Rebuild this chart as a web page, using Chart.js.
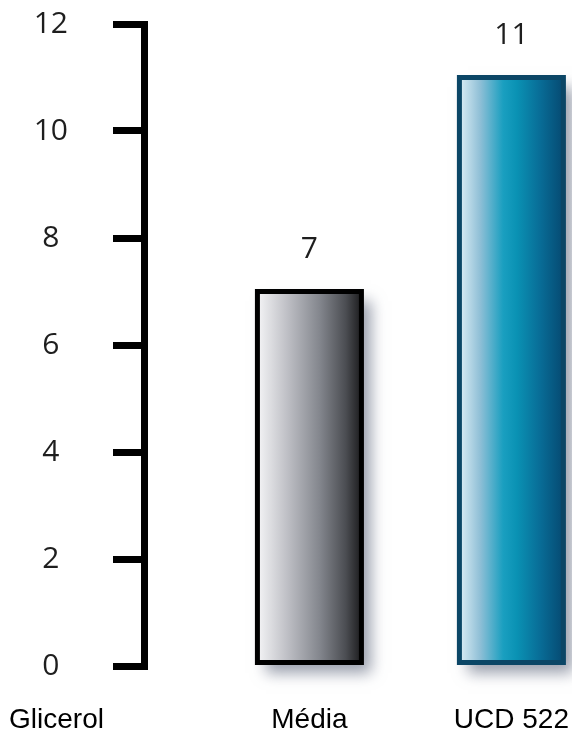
<!DOCTYPE html>
<html>
<head>
<meta charset="utf-8">
<script src="https://cdn.jsdelivr.net/npm/chart.js@4.4.1/dist/chart.umd.min.js"></script>
<style>
  html, body { margin: 0; padding: 0; background: #ffffff; }
  #wrap { width: 572px; height: 731px; position: relative; }
</style>
</head>
<body>
<div id="wrap"><canvas id="chart"></canvas></div>
<script>
// ---- data ----
const categories = ['Média', 'UCD 522'];
const values = [7, 11];
const yTickValues = [0, 2, 4, 6, 8, 10, 12];
const axisCaption = 'Glicerol';

// ---- styles ----
const fillStops = [
  [[0, '#f4f4f6'], [0.3, '#bcbdc3'], [0.6, '#83868d'], [0.85, '#4b4d52'], [1, '#1c1c1e']],
  [[0, '#dcedf5'], [0.2, '#8fbfd6'], [0.42, '#1a9fc0'], [0.55, '#0a92b4'], [0.78, '#086c96'], [1, '#064a72']]
];
const borderColors = ['#000000', '#0b4666'];
const BAR_W = 104;
const Y_TICK_LEN = 31;
const X_PAD = 37;
const CAT_FONT = { family: '"Liberation Sans", Arial, sans-serif', size: 28 };
const NUM_FONT = { family: '"Open Sans", sans-serif', size: 30 };

const decor = {
  id: 'decor',
  beforeDatasetDraw(chart) {
    const ctx = chart.ctx;
    ctx.save();
    ctx.shadowColor = 'rgba(70,80,105,0.55)';
    ctx.shadowBlur = 14;
    ctx.shadowOffsetX = 9;
    ctx.shadowOffsetY = 10;
  },
  afterDatasetDraw(chart) {
    chart.ctx.restore();
  },
  afterDatasetsDraw(chart) {
    const ctx = chart.ctx;
    const meta = chart.getDatasetMeta(0);
    meta.data.forEach((el, i) => {
      const p = el.getProps(['x', 'y', 'base', 'width'], true);
      ctx.save();
      ctx.lineWidth = 5;
      ctx.strokeStyle = borderColors[i];
      ctx.strokeRect(p.x - p.width / 2, p.y, p.width, p.base - p.y);
      ctx.fillStyle = '#1e1e1e';
      ctx.font = NUM_FONT.size + 'px ' + NUM_FONT.family;
      ctx.textAlign = 'center';
      ctx.textBaseline = 'alphabetic';
      ctx.fillText(String(values[i]), p.x, p.y - 34);
      ctx.restore();
    });
    const ys = chart.scales.y, xs = chart.scales.x;
    ctx.save();
    ctx.fillStyle = '#000';
    ctx.font = CAT_FONT.size + 'px ' + CAT_FONT.family;
    ctx.textAlign = 'center';
    ctx.textBaseline = 'middle';
    ctx.fillText(axisCaption, (ys.left + ys.right - Y_TICK_LEN) / 2, xs.top + X_PAD + CAT_FONT.size * 1.2 / 2);
    ctx.restore();
  }
};

new Chart(document.getElementById('chart'), {
  type: 'bar',
  data: {
    datasets: [{
      data: values.map((v, i) => ({ x: i, y: v })),
      barThickness: BAR_W,
      borderWidth: 0,
      clip: false,
      backgroundColor: (c) => {
        const chart = c.chart;
        if (!chart.chartArea || c.type !== 'data') return '#999';
        const cx = chart.scales.x.getPixelForValue(c.dataIndex);
        const g = chart.ctx.createLinearGradient(cx - BAR_W / 2, 0, cx + BAR_W / 2, 0);
        fillStops[c.dataIndex].forEach(([o, col]) => g.addColorStop(o, col));
        return g;
      }
    }]
  },
  options: {
    responsive: true,
    maintainAspectRatio: false,
    animation: false,
    layout: { padding: { top: 24, left: 0, right: 0, bottom: 0 }, autoPadding: false },
    plugins: { legend: { display: false }, tooltip: { enabled: false } },
    scales: {
      x: {
        type: 'linear',
        offset: false,
        bounds: 'data',
        min: -0.819,
        max: 1.300,
        grid: { display: false, drawTicks: false, offset: false },
        border: { display: false },
        afterBuildTicks: (s) => { s.ticks = categories.map((_, i) => ({ value: i })); },
        afterFit: (s) => { s.height = 65; s.paddingLeft = 0; s.paddingRight = 0; },
        ticks: {
          autoSkip: false,
          maxRotation: 0,
          padding: X_PAD,
          color: '#000',
          font: CAT_FONT,
          callback: (v) => categories[v]
        }
      },
      y: {
        min: 0,
        max: 12,
        afterBuildTicks: (s) => { s.ticks = yTickValues.map(v => ({ value: v })); },
        afterFit: (s) => { s.width = 144; s.paddingTop = 0; s.paddingBottom = 0; },
        grid: {
          drawOnChartArea: false,
          drawTicks: true,
          tickLength: Y_TICK_LEN,
          lineWidth: 7,
          color: '#000'
        },
        border: { display: true, width: 7, color: '#000' },
        ticks: {
          crossAlign: 'center',
          padding: 45,
          color: '#1e1e1e',
          font: NUM_FONT
        }
      }
    }
  },
  plugins: [decor]
});
</script>
</body>
</html>
